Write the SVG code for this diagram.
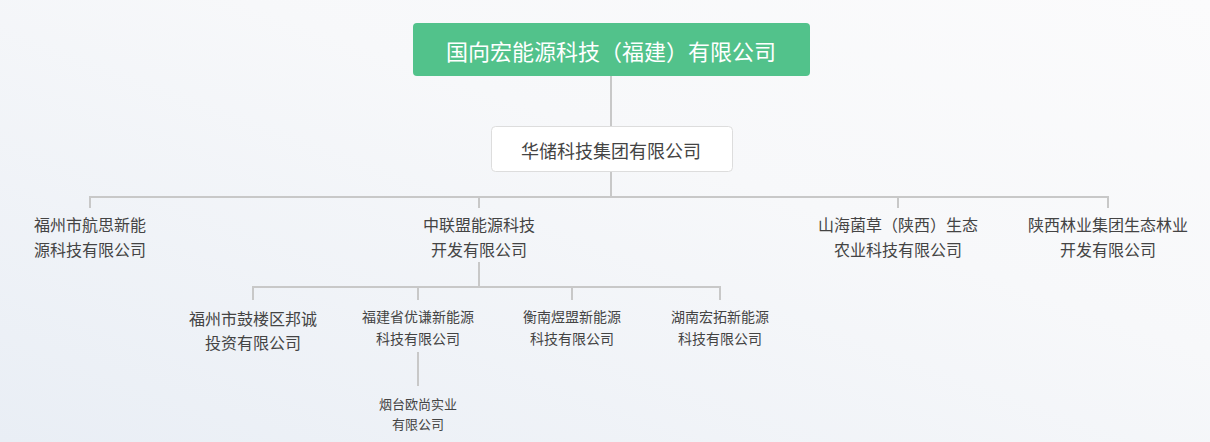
<svg xmlns="http://www.w3.org/2000/svg" width="1210" height="442" viewBox="0 0 1210 442">
<defs>
<linearGradient id="bg" x1="0" y1="1" x2="1" y2="0">
<stop offset="0" stop-color="#e9eef5"/><stop offset="0.6" stop-color="#f7f8fa"/><stop offset="1" stop-color="#fbfbfc"/>
</linearGradient>
<style>
text{font-family:"Noto Sans CJK SC",sans-serif;fill:#444;text-anchor:middle;dominant-baseline:central}
.c line{stroke:#c8c8c8;stroke-width:2}
.l2{font-size:16px}.l3{font-size:14px}.l4{font-size:13px}
</style>
</defs>
<rect width="1210" height="442" fill="url(#bg)"/>
<g class="c" id="connectors">
<line x1="611" y1="76" x2="611" y2="126"/>
<line x1="611" y1="171" x2="611" y2="197"/>
<line x1="89" y1="197" x2="1109" y2="197"/>
<line x1="90" y1="197" x2="90" y2="208"/>
<line x1="479" y1="197" x2="479" y2="208"/>
<line x1="898" y1="197" x2="898" y2="208"/>
<line x1="1108" y1="197" x2="1108" y2="208"/>
<line x1="479" y1="262" x2="479" y2="287"/>
<line x1="252" y1="287" x2="721" y2="287"/>
<line x1="253" y1="287" x2="253" y2="300"/>
<line x1="418" y1="287" x2="418" y2="300"/>
<line x1="572" y1="287" x2="572" y2="300"/>
<line x1="720" y1="287" x2="720" y2="300"/>
<line x1="418" y1="352" x2="418" y2="386"/>
</g>
<g id="root"><rect x="413" y="23" width="397" height="53" rx="4" fill="#52c28b"/><text x="611" y="50" font-size="22" style="fill:#fff">国向宏能源科技（福建）有限公司</text></g>
<g id="huachu"><rect x="491.5" y="126.5" width="241" height="45" rx="4" fill="#fff" stroke="#ddd"/><text x="611" y="150" font-size="18">华储科技集团有限公司</text></g>
<g id="n1"><text class="l2" x="90" y="224">福州市航思新能</text><text class="l2" x="90" y="249">源科技有限公司</text></g>
<g id="n2"><text class="l2" x="479" y="224">中联盟能源科技</text><text class="l2" x="479" y="249">开发有限公司</text></g>
<g id="n3"><text class="l2" x="898" y="224">山海菌草（陕西）生态</text><text class="l2" x="898" y="249">农业科技有限公司</text></g>
<g id="n4"><text class="l2" x="1108" y="224">陕西林业集团生态林业</text><text class="l2" x="1108" y="249">开发有限公司</text></g>
<g id="m1"><text class="l2" x="253" y="318">福州市鼓楼区邦诚</text><text class="l2" x="253" y="342">投资有限公司</text></g>
<g id="m2"><text class="l3" x="418" y="316">福建省优谦新能源</text><text class="l3" x="418" y="338">科技有限公司</text></g>
<g id="m3"><text class="l3" x="572" y="316">衡南煜盟新能源</text><text class="l3" x="572" y="338">科技有限公司</text></g>
<g id="m4"><text class="l3" x="720" y="316">湖南宏拓新能源</text><text class="l3" x="720" y="338">科技有限公司</text></g>
<g id="k1"><text class="l4" x="418" y="403">烟台欧尚实业</text><text class="l4" x="418" y="423">有限公司</text></g>
</svg>
